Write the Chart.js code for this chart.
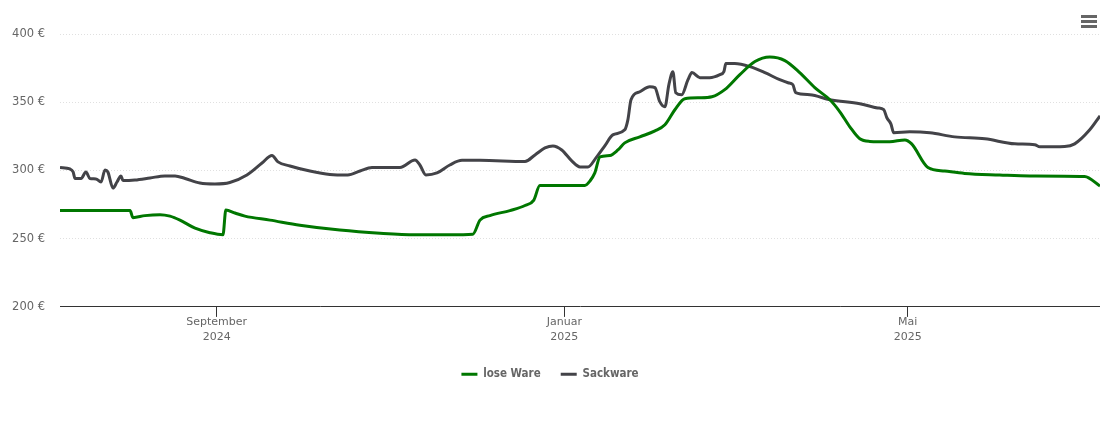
<!DOCTYPE html>
<html>
<head>
<meta charset="utf-8">
<script src="https://cdn.jsdelivr.net/npm/chart.js@4"></script>
<style>
  html, body { margin: 0; padding: 0; background: #fff; }
  canvas { display: block; }
</style>
</head>
<body>
<canvas id="chart" width="1100" height="423"></canvas>
<script>
// x values are days since 8 July 2024
const looseDays = [0, 24.6, 25.6, 29.8, 35.1, 38.6, 42.1, 47.4, 52.6, 57.2, 58.2, 61.4, 64.9, 73.7, 84.2, 98.2, 112.3, 124.6, 136.8, 144.9, 147.4, 150.9, 157.9, 163.2, 166.3, 168.4, 184.2, 186, 187.7, 189.5, 193, 195.8, 198.2, 203.5, 208.8, 212.3, 215.8, 219.3, 224.6, 228.8, 233.3, 238.6, 243.9, 249.1, 254.4, 259.6, 264.9, 270.2, 273.7, 277.2, 280.7, 284.2, 291.2, 296.5, 298.9, 304.6, 310.5, 317.5, 329.8, 340.4, 359.6, 365];
const looseValues = [270.6, 270.6, 265.4, 266.9, 267.6, 266.5, 263.6, 257.7, 254.4, 252.9, 271, 268.8, 266.5, 263.6, 259.9, 256.3, 254, 252.9, 252.9, 253.3, 263.6, 266.9, 270.6, 274.3, 278.3, 289, 289, 292.3, 298.2, 309.9, 311, 315, 320.2, 324.6, 329, 333.5, 344.5, 352.6, 353.3, 354, 359.2, 370.2, 379.8, 383.1, 380.5, 371.7, 360.7, 351.8, 343, 332, 323.2, 321.3, 321, 322.4, 319.5, 302.2, 299.6, 297.8, 296.7, 296, 295.6, 288.6];

const sackDays = [0, 3.5, 4.6, 5.3, 7.4, 9.1, 10.5, 12.6, 14.4, 15.8, 16.8, 18.6, 20, 21.4, 22.1, 26.3, 31.6, 36.8, 40.4, 43.9, 49.1, 54.4, 59.6, 65.6, 70.9, 74.4, 76.5, 80.7, 87.7, 94.7, 101, 105.3, 109.5, 119.3, 124.6, 126.3, 128.4, 132.3, 136.8, 141.1, 147.4, 163.2, 166.7, 170.2, 173, 176.1, 179.6, 182.5, 185.3, 188.1, 191.2, 194, 198.2, 199.3, 200.4, 203.5, 207, 208.8, 210.5, 212.3, 213.7, 215.1, 216.1, 218.2, 220.4, 221.8, 224.6, 228, 231.6, 233, 233.7, 236.8, 242.1, 247.4, 252.6, 255.5, 257.2, 258.2, 263.2, 270.2, 280.7, 287, 289.1, 290.2, 291.6, 292.6, 298.2, 305.3, 314, 324.6, 335.1, 342.1, 343.9, 352.6, 356.1, 361.4, 365];
const sackValues = [302.2, 301.1, 298.9, 294.1, 294.1, 298.9, 294.1, 293.8, 291.5, 300.4, 298.9, 287.1, 291.5, 296, 292.6, 293, 294.5, 296, 296, 294.1, 290.8, 290.1, 291.2, 296.7, 305.5, 311, 306.3, 303.3, 299.6, 297.1, 296.7, 299.6, 302.2, 302.2, 307.7, 304, 296.7, 298.2, 304, 307.4, 307.4, 306.6, 311.4, 316.5, 318, 315, 307, 302.6, 302.6, 309.2, 318, 326.1, 329.8, 337.1, 351.8, 357.7, 361.4, 360.7, 350.4, 346.7, 362.9, 372.4, 357, 355.5, 366.5, 371.7, 368, 368, 370.2, 372.4, 378.3, 378.3, 376.1, 371.7, 366.5, 364.3, 362.9, 357, 355.5, 351.8, 348.9, 345.8, 344.5, 338.6, 334.2, 327.6, 328.3, 327.6, 324.6, 323.2, 319.5, 318.8, 317.3, 317.6, 319.5, 329.8, 340];

const tickDays = [55, 177, 297.5];
const tickMonths = ["September", "Januar", "Mai"];
const tickYears = ["2024", "2025", "2025"];
const yTicks = [200, 250, 300, 350, 400];

const seriesNames = ["lose Ware", "Sackware"];
const seriesColors = ["#007700", "#434348"];

const fontFamily = '"DejaVu Sans", sans-serif';

function toPoints(days, values) {
  return days.map((d, i) => ({ x: d, y: values[i] }));
}

function makeDataset(index, days, values) {
  return {
    label: seriesNames[index],
    data: toPoints(days, values),
    borderColor: seriesColors[index],
    backgroundColor: seriesColors[index],
    borderWidth: 3,
    pointRadius: 0,
    cubicInterpolationMode: "monotone",
  };
}

// hamburger button in the top right corner
const menuIcon = {
  id: "menuIcon",
  afterDraw(chart) {
    const ctx = chart.ctx;
    ctx.save();
    ctx.fillStyle = "#666";
    [15, 20, 25].forEach((y) => ctx.fillRect(1081, y, 16, 3));
    ctx.restore();
  },
};

new Chart(document.getElementById("chart"), {
  type: "line",
  data: {
    datasets: [
      makeDataset(0, looseDays, looseValues),
      makeDataset(1, sackDays, sackValues),
    ],
  },
  plugins: [menuIcon],
  options: {
    responsive: false,
    animation: false,
    layout: {
      padding: { top: 34, right: 0, bottom: 33, left: 0 },
    },
    plugins: {
      tooltip: { enabled: false },
      legend: {
        position: "bottom",
        labels: {
          color: "#666",
          font: { family: '"DejaVu Sans Condensed", "DejaVu Sans", sans-serif', size: 11.5, weight: "bold" },
          usePointStyle: true,
          pointStyle: "line",
          pointStyleWidth: 16,
          padding: 20,
        },
      },
    },
    scales: {
      x: {
        type: "linear",
        min: 0,
        max: 365,
        afterBuildTicks: (axis) => {
          axis.ticks = tickDays.map((v) => ({ value: v }));
        },
        afterFit: (axis) => {
          axis.height = 41.6;
        },
        grid: {
          drawOnChartArea: false,
          tickLength: 10,
          tickColor: "#333",
        },
        border: { color: "#333" },
        ticks: {
          autoSkip: false,
          maxRotation: 0,
          padding: -2,
          color: "#666",
          font: { family: fontFamily, size: 11, lineHeight: 1.35 },
          callback: (v) => {
            const i = tickDays.indexOf(v);
            return i < 0 ? "" : [tickMonths[i], tickYears[i]];
          },
        },
      },
      y: {
        min: 200,
        max: 400,
        afterBuildTicks: (axis) => {
          axis.ticks = yTicks.map((v) => ({ value: v }));
        },
        afterFit: (axis) => {
          axis.width = 60;
        },
        grid: {
          color: "#e0e0e0",
          drawTicks: false,
        },
        border: { display: false, dash: [1, 2] },
        ticks: {
          padding: 15,
          color: "#666",
          font: { family: fontFamily, size: 11.5 },
          callback: (v) => v + " €",
        },
      },
    },
  },
});
</script>
</body>
</html>
